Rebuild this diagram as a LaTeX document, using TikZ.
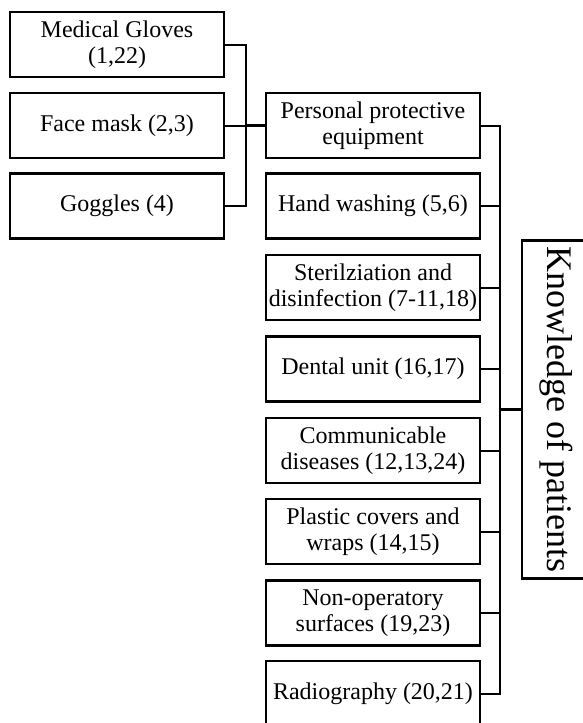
\documentclass[tikz,border=0pt]{standalone}
\usepackage{fontspec}
\setmainfont{Liberation Serif}
\begin{document}
\begin{tikzpicture}[x=0.5pt,y=-0.5pt,
  box/.style={draw, line width=1.1pt, minimum width=107pt, minimum height=32.5pt,
    align=center, inner sep=0pt, font=\fontsize{12}{13}\selectfont},
  conn/.style={line width=1pt},
  thick conn/.style={line width=1.5pt}]
\useasboundingbox (0,0) rectangle (583,723);
\clip (0,0) rectangle (583,723);
% left column
\node[box] (gloves) at (117,44.5) {Medical Gloves\\(1,22)};
\node[box] (mask) at (117,125.5) {Face mask (2,3)};
\node[box] (goggles) at (117,206) {Goggles (4)};
% right column
\node[box] (ppe) at (373,125.5) {Personal protective\\equipment};
\node[box] (hand) at (373,206) {Hand washing (5,6)};
\node[box] (steril) at (373,287.5) {Sterilziation and\\disinfection (7-11,18)};
\node[box] (dental) at (373,369) {Dental unit (16,17)};
\node[box] (comm) at (373,450.5) {Communicable\\diseases (12,13,24)};
\node[box] (plastic) at (373,531.5) {Plastic covers and\\wraps (14,15)};
\node[box] (nonop) at (373,613) {Non-operatory\\surfaces (19,23)};
\node[box] (radio) at (373,693.5) {Radiography (20,21)};
% knowledge box
\node[draw, line width=1.1pt, rotate=-90, minimum width=169pt, minimum height=34pt,
  inner sep=0pt, font=\fontsize{18}{20}\selectfont] (know) at (556,409.5)
  {\raisebox{-2.3pt}{Knowledge of patients}};
% left bracket
\coordinate (lb) at (246,125.5);
\draw[conn] (gloves.east) -| (lb) |- (goggles.east);
\draw[conn] (mask.east) -- (lb);
\draw[thick conn] (lb) -- (ppe.west);
% right bracket
\coordinate (rt) at (500,125.5);
\coordinate (rb) at (500,693.5);
\coordinate (rk) at (500,409.5);
\draw[conn] (ppe.east) -- (rt) -- (rb) -- (radio.east);
\foreach \n in {hand,steril,dental,comm,plastic,nonop}
  \draw[conn] (\n.east) -- (\n.east -| rt);
\draw[thick conn] (rk) -- (know.south);
\end{tikzpicture}
\end{document}
